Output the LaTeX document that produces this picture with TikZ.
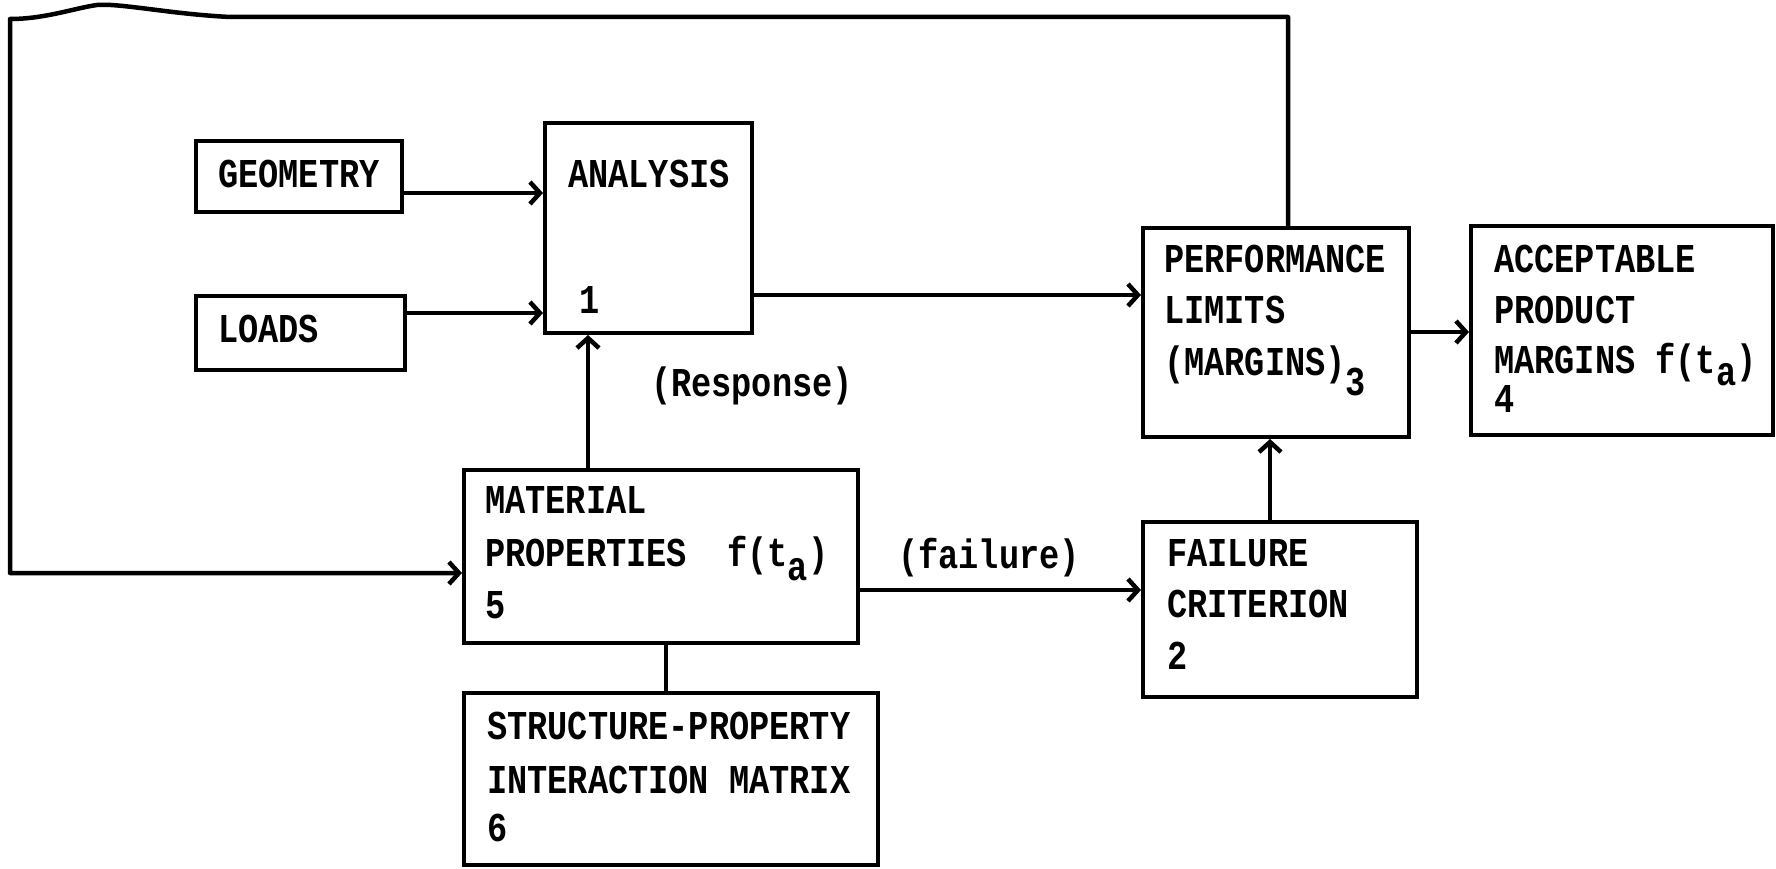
\documentclass[tikz,border=0pt]{standalone}
\usepackage{fontspec}
\newfontfamily\twfont{Liberation Mono}[FakeStretch=0.82]
\usetikzlibrary{arrows.meta}
\tikzset{
  box/.style={draw, line width=4pt, inner sep=0pt, rectangle},
  txt/.style={anchor=base west, inner sep=0pt, font=\twfont\bfseries\fontsize{41}{48}\selectfont},
  lbl/.style={anchor=center, inner sep=0pt, font=\twfont\bfseries\fontsize{41}{48}\selectfont},
  arr/.style={line width=4.5pt, -{Straight Barb[length=10pt,width=22pt]}},
  link/.style={line width=4.5pt},
}
\newcommand{\subdrop}[2]{\raisebox{-#1}{#2}}
\begin{document}
\begin{tikzpicture}[x=1pt,y=-1pt]
\useasboundingbox (0,0) rectangle (1776,869);
% boxes
\node[box, minimum width=206pt, minimum height=71pt] (geo) at (299,176.5) {};
\node[box, minimum width=209pt, minimum height=74pt] (loads) at (300.5,333) {};
\node[box, minimum width=207pt, minimum height=210pt] (ana) at (648.5,228) {};
\node[box, minimum width=266pt, minimum height=209pt] (perf) at (1276,332.5) {};
\node[box, minimum width=302pt, minimum height=209pt] (acc) at (1622,330.5) {};
\node[box, minimum width=394pt, minimum height=173pt] (mat) at (661,556.5) {};
\node[box, minimum width=414pt, minimum height=172pt] (str) at (671,779) {};
\node[box, minimum width=274pt, minimum height=175pt] (fail) at (1280,609.5) {};
% texts
\node[txt] (geo-t) at (218,187) {GEOMETRY};
\node[txt] (loads-t) at (218,342) {LOADS};
\node[txt] (ana-t) at (568,187) {ANALYSIS};
\node[txt] (ana-n) at (579,313) {1};
\node[txt] (perf-t1) at (1164,272) {PERFORMANCE};
\node[txt] (perf-t2) at (1164,323) {LIMITS};
\node[txt] (perf-t3) at (1164,375) {(MARGINS)\subdrop{20pt}{3}};
\node[txt] (acc-t1) at (1494,272) {ACCEPTABLE};
\node[txt] (acc-t2) at (1494,323) {PRODUCT};
\node[txt, text depth=10pt] (acc-t3) at (1494,373) {MARGINS f(t\subdrop{12pt}{a})};
\node[txt, text height=20pt] (acc-n) at (1494,412) {4};
\node[txt] (mat-t1) at (485,513) {MATERIAL};
\node[txt] (mat-t2) at (485,566) {PROPERTIES\ \ f(t\subdrop{14pt}{a})};
\node[txt] (mat-n) at (485,618) {5};
\node[txt] (str-t1) at (487,739) {STRUCTURE-PROPERTY};
\node[txt] (str-t2) at (487,793) {INTERACTION MATRIX};
\node[txt] (str-n) at (487,841) {6};
\node[txt] (fail-t1) at (1167,566) {FAILURE};
\node[txt] (fail-t2) at (1167,617) {CRITERION};
\node[txt] (fail-n) at (1167,669) {2};
\node[lbl] (resp) at (752,386) {(Response)};
\node[lbl] (failure) at (989,558) {(failure)};
% connectors
\draw[arr] (geo.east |- 0,193) -- (ana.west |- 0,193);
\draw[arr] (loads.east |- 0,313) -- (ana.west |- 0,313);
\draw[arr] (ana.east |- 0,295) -- (perf.west |- 0,295);
\draw[arr] (perf.east |- 0,332) -- (acc.west |- 0,332);
\draw[arr] (mat.north -| 588,0) -- (ana.south -| 588,0);
\draw[link] (mat.south -| 666,0) -- (str.north -| 666,0);
\draw[arr] (mat.east |- 0,590) -- (fail.west |- 0,590);
\draw[arr] (fail.north -| 1270,0) -- (perf.south -| 1270,0);
\draw[arr, line join=round] (perf.north -| 1288,0) -- (1288,17) -- (230,17)
  .. controls (170,14) and (120,3) .. (97,5)
  .. controls (75,8) and (45,19) .. (10,19)
  -- (10,573) -- (mat.west |- 0,573);
\end{tikzpicture}
\end{document}
